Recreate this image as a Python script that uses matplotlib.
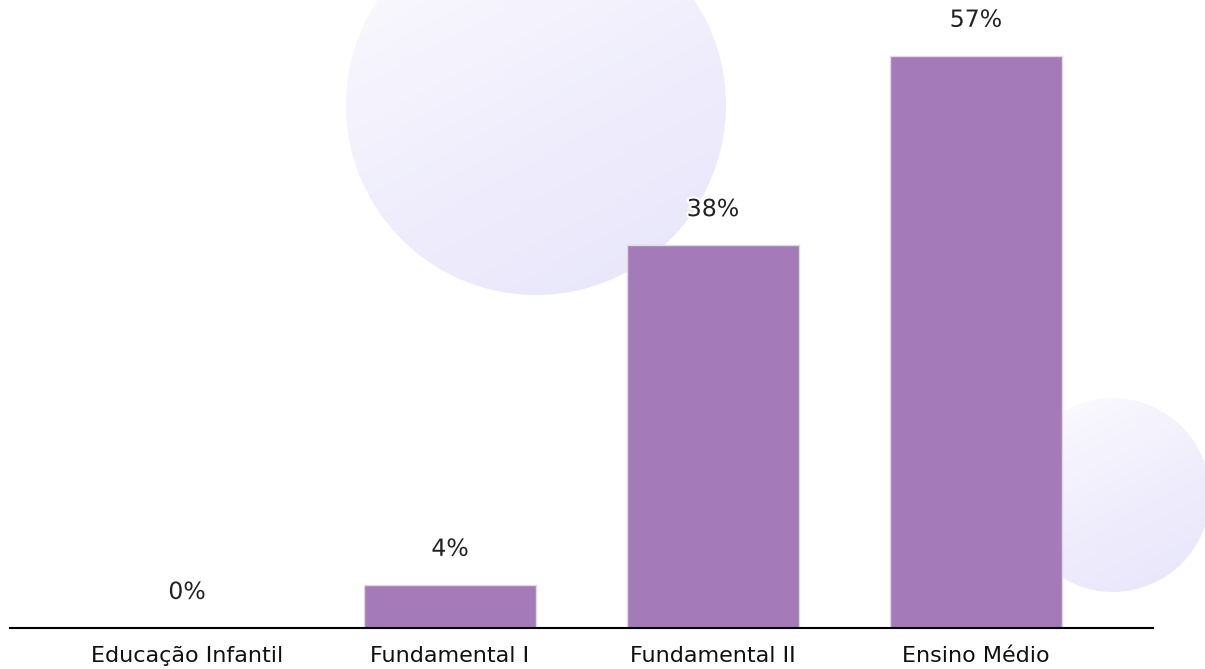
import numpy as np
import matplotlib.pyplot as plt
import matplotlib.patheffects as pe
from matplotlib.patches import Circle

categories = ["Educação Infantil", "Fundamental I", "Fundamental II", "Ensino Médio"]
values = [0.0, 4.3, 38.2, 57.1]
value_labels = ["0%", "4%", "38%", "57%"]

bar_color = "#a57ab9"
W, H = 1205, 669

fig = plt.figure(figsize=(W / 100, H / 100), dpi=100)
fig.patch.set_facecolor("white")

# background decoration: two soft lavender circles with a gradient
bg = fig.add_axes([0, 0, 1, 1], zorder=0)
bg.set_xlim(0, W)
bg.set_ylim(H, 0)
bg.axis("off")
for cx, cy, r in [(536, 105, 190), (1113, 495, 97)]:
    gx, gy = np.meshgrid(np.linspace(0, 1, 200), np.linspace(0, 1, 200))
    t = 0.35 * gx + 0.65 * gy
    c0 = np.array([1.0, 1.0, 1.0])
    c1 = np.array([232, 229, 251]) / 255
    img = c0 + (c1 - c0) * t[..., None] ** 0.7
    im = bg.imshow(img, extent=(cx - r, cx + r, cy + r, cy - r), interpolation="bilinear")
    circ = Circle((cx, cy), r, transform=bg.transData, facecolor="none", edgecolor="none")
    bg.add_patch(circ)
    im.set_clip_path(circ)

# main bar chart
ax = fig.add_axes([10 / W, (H - 628) / H, 1143 / W, 628 / H], zorder=1)
ax.patch.set_alpha(0)
x = np.arange(len(categories))
ax.bar(x, values, width=0.654, color=bar_color, edgecolor="#dcdcdc", linewidth=1)
ax.set_xlim(-0.673, len(categories) - 1 + 0.673)
ax.set_ylim(0, 628 / 10.02)

for xi, v, lab in zip(x, values, value_labels):
    ax.annotate(lab, (xi, v), xytext=(0, 26), textcoords="offset points",
                ha="center", va="center", fontsize=17, color="#222222",
                path_effects=[pe.withStroke(linewidth=3, foreground="white")])

ax.set_xticks(x)
ax.set_xticklabels(categories, fontsize=16, color="#111111")
ax.tick_params(axis="x", length=0, pad=13)
ax.set_yticks([])
for s in ["top", "right", "left"]:
    ax.spines[s].set_visible(False)
ax.spines["bottom"].set_linewidth(1.5)
ax.spines["bottom"].set_color("black")

fig.savefig("out.png", dpi=100)
